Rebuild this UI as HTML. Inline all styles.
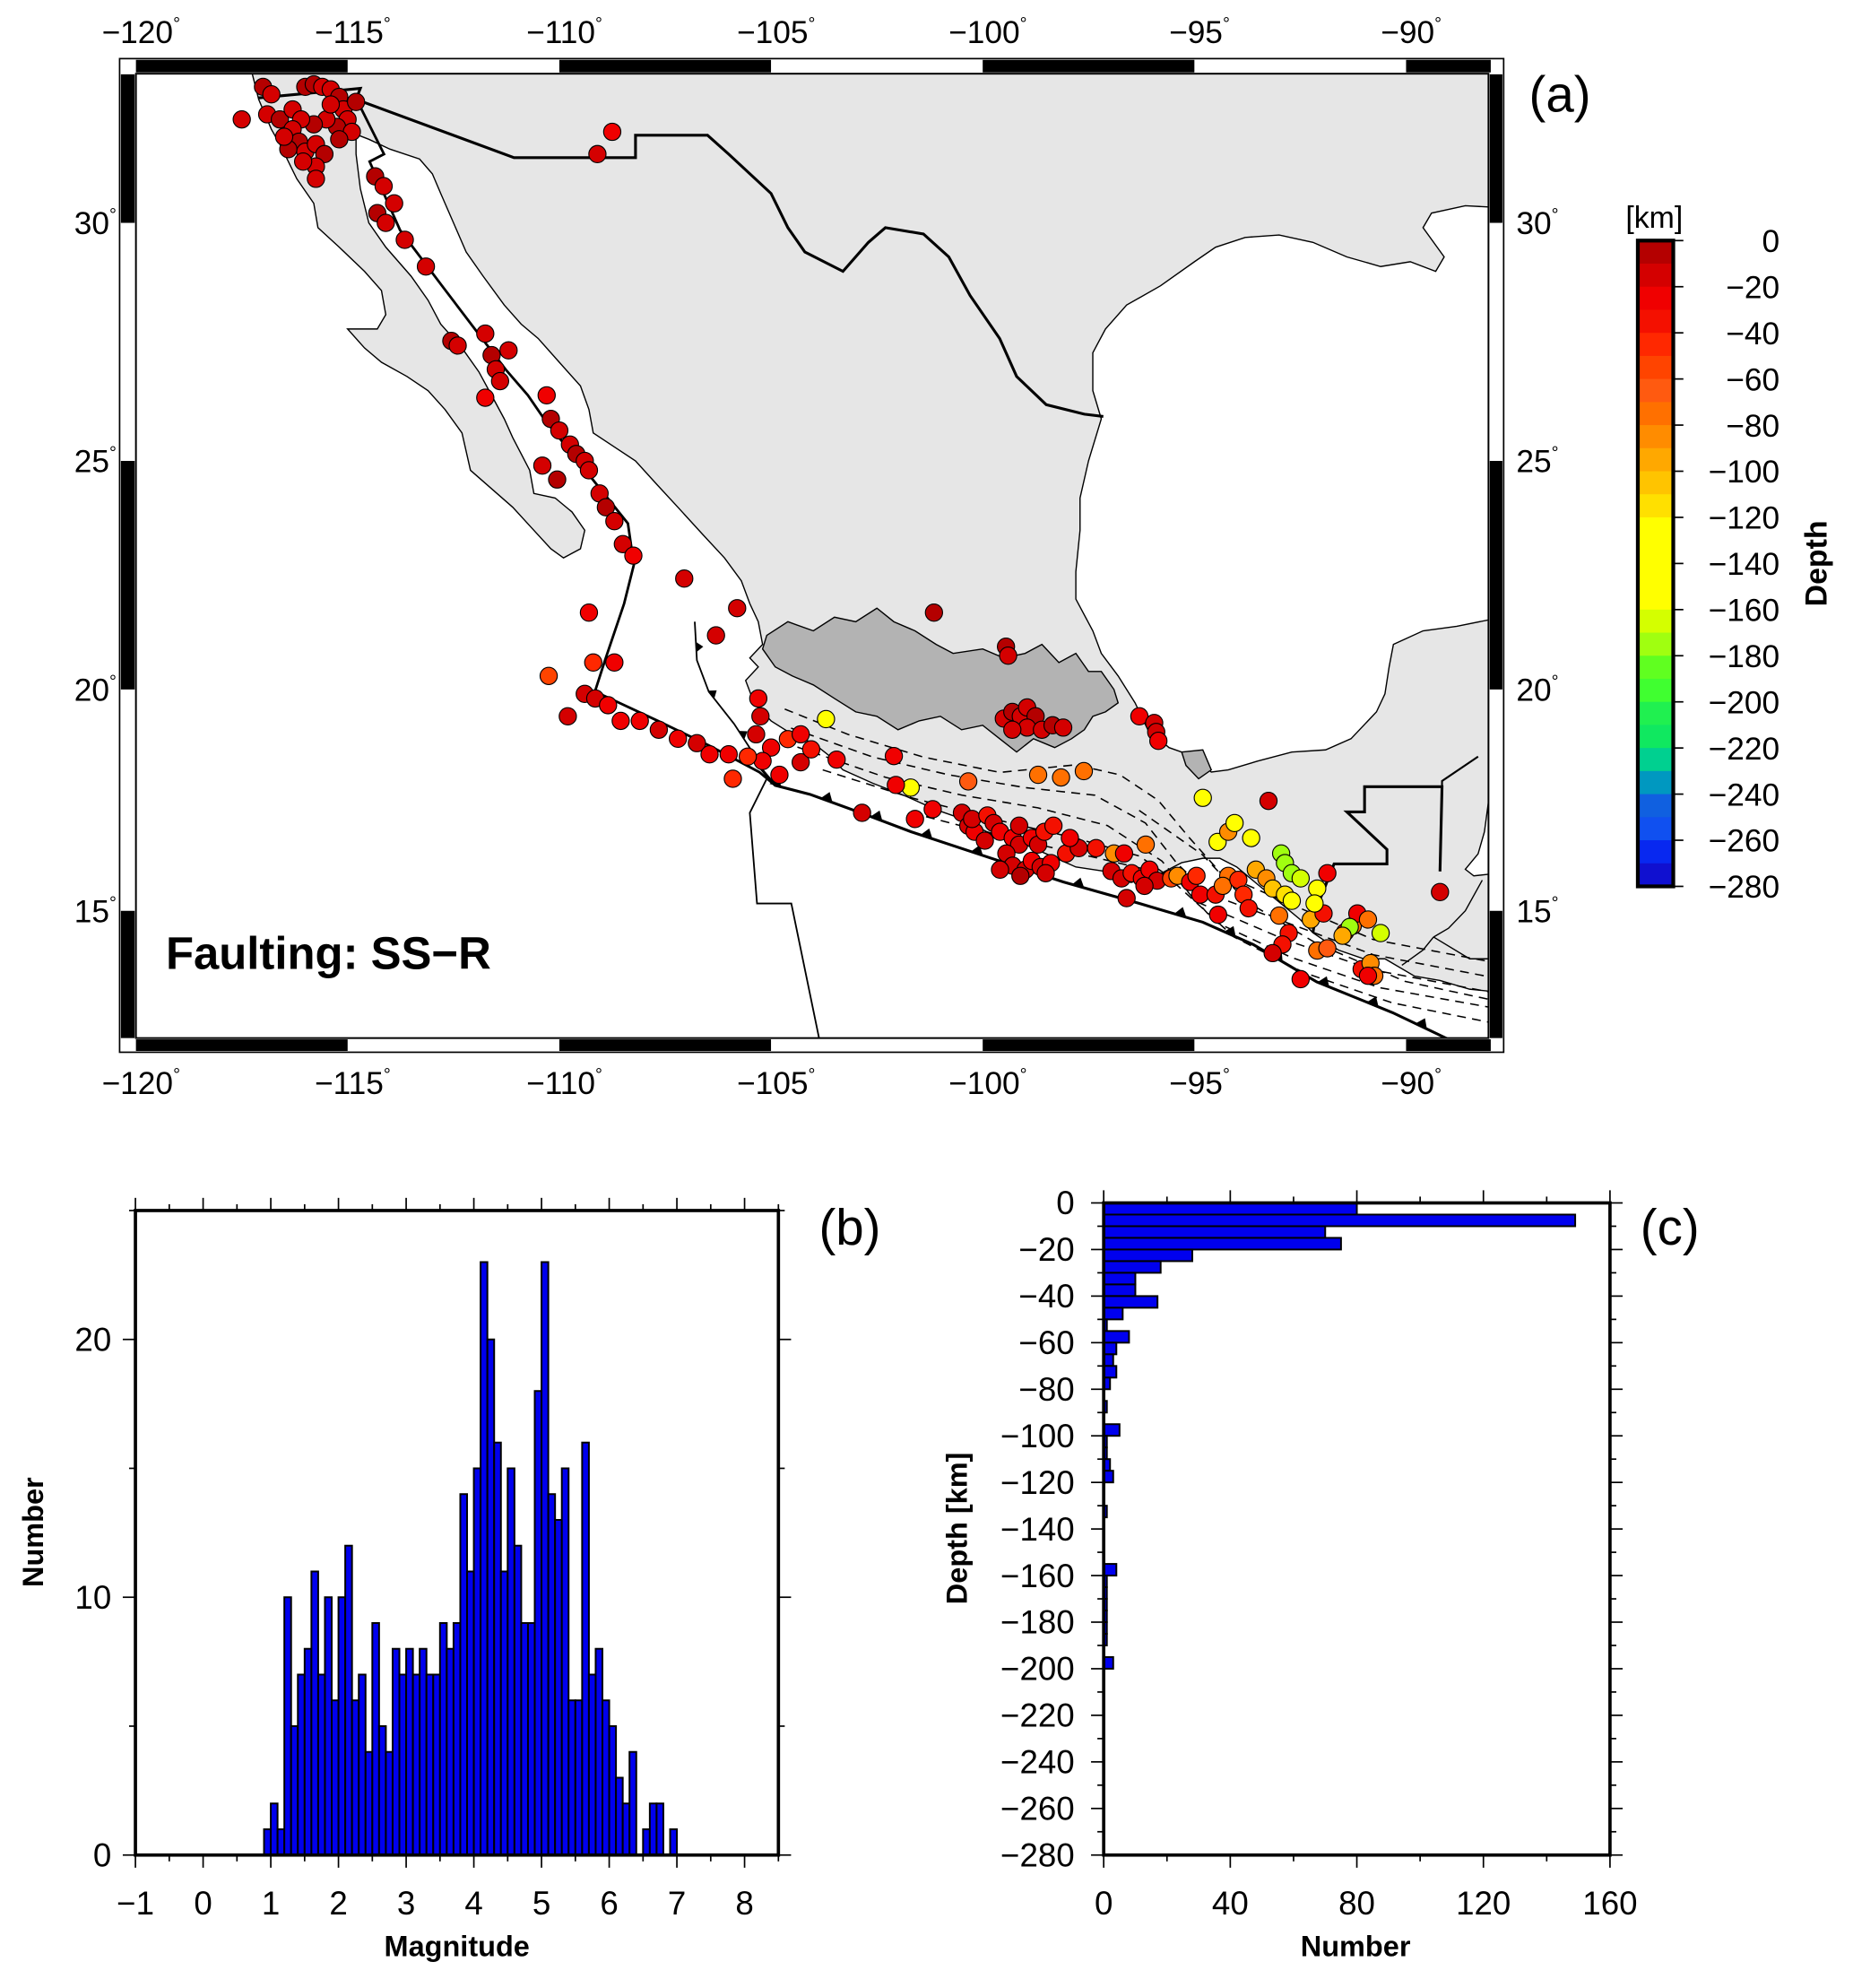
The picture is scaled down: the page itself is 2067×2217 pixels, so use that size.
<!DOCTYPE html>
<html><head><meta charset="utf-8"><style>
html,body{margin:0;padding:0;background:#fff}
svg{display:block}
text{font-family:"Liberation Sans",sans-serif;fill:#000}
</style></head><body>
<svg id="fig" xmlns="http://www.w3.org/2000/svg" width="2067" height="2217" viewBox="0 0 1464 1570" preserveAspectRatio="none">
<defs><clipPath id="mapclip"><rect x="107.4" y="58.2" width="1068.6" height="761.6"/></clipPath></defs>
<g id="mapg"></g>
<g id="cbar"></g>
<g id="hb"></g>
<g id="hc"></g>
</svg>
<script>
// ---------- data ----------
const quakeLon=[-117.0,-116.8,-116.9,-116.6,-116.3,-116.0,-115.8,-115.6,-115.4,-115.2,-115.1,-115.0,-115.25,-115.5,-115.8,-116.1,-116.3,-116.15,-116.0,-115.75,-115.55,-115.75,-116.05,-116.4,-116.5,-117.5,-115.75,-114.8,-114.9,-115.4,-115.2,
-108.75,-109.1,-114.35,-114.15,-113.9,-114.3,-114.1,-113.65,-113.15,-112.55,-112.4,-111.75,-111.6,-111.5,-111.2,-111.75,-111.4,-110.3,-110.2,-110.0,-109.75,-109.6,-109.4,-110.4,-110.05,-109.3,-109.05,-108.9,-108.7,-108.5,-108.25,-107.05,-105.8,-106.3,-109.3,-101.15,
-109.2,-108.7,-110.25,-109.4,-109.15,-108.85,-109.8,-108.55,-108.1,-107.65,-107.2,-106.75,-106.45,-106.0,-105.9,-105.3,-105.25,-105.35,-105.0,-105.2,-104.6,-104.3,-103.7,-105.55,-104.8,-104.3,-104.05,-103.45,-102.85,-102.1,-101.7,-102.05,-101.6,
-100.34,-98.69,-98.15,-97.61,
-99.45,-99.4,-99.5,-99.3,-99.1,-98.95,-98.75,-98.95,-98.6,-98.35,-98.1,-99.3,-96.3,-95.95,-95.9,-95.85,-93.25,
-101.18,-100.49,-100.34,-100.19,-100.25,-99.89,-99.74,-99.59,-99.29,-99.14,-98.84,-98.69,-98.54,-99.95,-99.44,-99.29,-98.99,-98.84,-98.63,-98.39,-99.59,-99.11,-98.51,-98.03,-97.73,-98.33,-97.94,-99.14,
-97.32,-96.9,-96.66,-96.96,-96.72,-96.48,-96.24,-96.06,-95.88,-96.6,-96.15,-96.18,-95.55,-95.4,-95.1,-94.86,-94.44,-94.5,-94.95,
-94.8,-94.45,-94.2,-94.05,-93.66,-92.95,-92.86,-92.7,-92.49,-93.55,-93.3,-93.15,-92.86,-92.7,-92.25,-91.95,-91.86,-92.1,-92.16,-94.2,-94.33,-93.96,-93.84,-93.72,-93.0,-92.77,-92.92,-93.15,-92.49,-92.1,-91.86,-91.44,-91.26,-91.15,-91.33,-90.9,-90.6,-91.5,-91.05,-90.84,-90.75,-90.9,-89.2];
const quakeLat=[32.75,32.6,32.2,32.1,32.3,32.75,32.8,32.75,32.7,32.55,32.3,32.1,31.95,32.1,32.0,32.1,31.9,31.65,31.45,31.6,31.4,31.15,31.25,31.5,31.75,32.1,30.9,32.45,31.85,32.4,31.7,
31.85,31.4,30.95,30.75,30.4,30.2,30.0,29.65,29.1,27.55,27.45,27.7,27.25,26.95,27.35,26.35,26.7,26.4,25.9,25.65,25.35,25.15,25.0,24.9,24.6,24.8,24.3,24.0,23.7,23.2,22.95,22.45,21.8,21.2,21.7,21.7,
20.6,20.6,20.3,19.9,19.8,19.65,19.4,19.3,19.3,19.1,18.9,18.8,18.55,18.55,18.0,19.8,19.4,19.0,18.7,18.4,18.89,19.0,19.34,18.5,18.09,18.37,18.66,18.43,17.23,18.51,17.8,17.86,17.09,
17.94,18.09,18.03,18.17,
20.95,20.75,19.35,19.5,19.4,19.6,19.4,19.15,19.1,19.2,19.15,19.1,19.4,19.25,19.05,18.85,17.5,
17.31,17.23,16.94,16.8,17.09,17.17,17.0,16.8,16.66,16.51,16.66,16.51,16.8,16.6,16.31,16.03,15.94,16.14,16.0,16.09,15.94,15.8,15.86,16.31,16.43,16.94,16.66,16.94,
16.43,16.31,16.31,15.91,15.74,15.86,15.74,15.94,15.69,15.29,16.51,15.57,15.74,15.8,15.66,15.37,14.91,15.37,15.8,
17.57,16.57,16.8,17.0,16.66,16.31,16.09,15.86,15.74,15.94,15.74,15.51,15.37,15.23,14.8,14.94,15.86,15.51,15.17,15.8,15.57,15.71,15.37,15.06,14.89,14.49,14.23,14.03,13.43,14.09,14.14,14.51,14.66,14.94,14.63,14.8,14.49,14.43,13.66,13.8,13.51,13.51,15.43];
const quakeDepth=[8,10,12,8,10,6,8,10,12,8,10,12,6,10,8,12,10,8,10,12,8,14,10,8,12,15,18,8,10,12,8,
20,10,8,10,12,8,10,12,14,8,10,12,8,10,12,20,10,22,8,10,12,8,10,15,8,10,12,8,10,12,20,15,18,10,22,8,
40,20,50,15,10,20,15,20,25,15,20,15,25,20,45,25,18,15,20,25,40,25,130,45,20,15,30,20,15,20,120,20,25,
60,70,75,70,
8,10,10,8,12,10,8,12,10,8,10,12,20,15,18,20,10,
20,10,10,25,15,30,10,20,25,10,20,15,30,10,15,10,10,20,10,25,10,5,10,30,15,35,20,10,
30,80,25,15,10,30,20,25,10,10,75,15,50,80,20,25,20,30,40,
130,125,80,120,130,170,175,175,165,90,80,100,110,120,90,30,20,120,120,70,75,40,40,30,70,35,30,15,20,70,65,35,70,20,170,75,165,90,30,80,70,25,10];

const magBinStart=0.9, magBinWidth=0.1;
const magCounts=[1,2,1,10,5,7,8,11,7,10, 6,10,12,6,7,4,9,5,4,8, 7,8,7,8,7,7,9,8,9,14, 11,15,23,20,16,11,15,12,9,9, 18,23,14,13,15,6,6,16,7,8, 6,5,3,2,4,0,1,2,2,0,1];
const magTicks=[-1,0,1,2,3,4,5,6,7,8];
const numTicksB=[0,10,20];

const depthBinWidth=5;
const depthCounts=[80,149,70,75,28,18,10,10,17,6,1,8,4,3,4,2,0,1,0,5,1,1,2,3,0,0,1,0,0,0,0,4,1,1,1,1,1,1,0,3];
const depthTicks=[0,-20,-40,-60,-80,-100,-120,-140,-160,-180,-200,-220,-240,-260,-280];
const numTicksC=[0,40,80,120,160];

const cptColors=["#b40000","#d40000","#f00000","#f41000","#ff2800","#ff4400","#ff5a10","#ff7000","#ff8c00","#ffa800","#ffc400","#ffe000","#ffff00","#ffff00","#ffff00","#ffff00","#d4ff00","#a0ff10","#60ff20","#40ff30","#20f050","#10e860","#00d090","#0098c0","#1060e0","#1050f0","#0828f0","#1010d0"];
const lonTicks=[-120,-115,-110,-105,-100,-95,-90];
const latTicks=[15,20,25,30];

// ---------- helpers ----------
const NS="http://www.w3.org/2000/svg";
function mk(tag,attrs,parent){const e=document.createElementNS(NS,tag);for(const k in attrs)e.setAttribute(k,attrs[k]);parent.appendChild(e);return e;}
const merc=l=>Math.log(Math.tan(Math.PI/4+l*Math.PI/360));
const PX=lon=>107.4+(lon+120)*33.45;
const PY=lat=>176-1910*(merc(lat)-merc(30));
const pathLL=pts=>pts.map((p,i)=>(i?"L":"M")+PX(p[0]).toFixed(1)+","+PY(p[1]).toFixed(1)).join("");
function depthColor(d){let i=Math.floor(d/10);if(i<0)i=0;if(i>27)i=27;return cptColors[i];}

// ---------- map ----------
const M=document.getElementById("mapg");
const land=[[-117.6,33.6],[-117.25,33.0],[-117.1,32.5],[-116.8,31.9],[-116.6,31.6],[-116.2,30.9],[-115.8,30.4],[-115.7,29.9],[-115.2,29.5],[-114.6,29.0],[-114.2,28.6],[-114.1,28.1],[-114.3,27.8],[-115.0,27.8],[-114.6,27.4],[-114.2,27.1],[-113.6,26.8],[-113.1,26.5],[-112.7,26.1],[-112.3,25.6],[-112.1,24.8],[-111.6,24.4],[-111.1,24.0],[-110.7,23.6],[-110.2,23.1],[-109.9,22.9],[-109.5,23.1],[-109.4,23.5],[-109.7,23.9],[-110.1,24.2],[-110.6,24.3],[-110.7,24.8],[-111.1,25.5],[-111.3,25.9],[-111.6,26.4],[-111.9,26.9],[-112.3,27.4],[-112.8,27.9],[-113.1,28.4],[-113.5,28.9],[-114.1,29.5],[-114.5,30.0],[-114.7,30.7],[-114.8,31.4],[-114.8,31.8],[-114.5,31.7],[-114.0,31.5],[-113.3,31.3],[-113.0,31.0],[-112.8,30.6],[-112.5,30.0],[-112.2,29.4],[-111.8,28.9],[-111.3,28.3],[-110.9,27.9],[-110.5,27.6],[-110.0,27.1],[-109.5,26.6],[-109.3,26.1],[-109.2,25.6],[-108.7,25.3],[-108.2,25.0],[-107.7,24.5],[-107.2,24.0],[-106.6,23.4],[-106.1,22.9],[-105.7,22.4],[-105.5,21.9],[-105.3,21.5],[-105.2,21.0],[-105.5,20.7],[-105.3,20.5],[-105.6,20.2],[-105.4,19.7],[-105.0,19.3],[-104.5,19.0],[-104.0,18.8],[-103.6,18.5],[-103.3,18.2],[-102.6,17.9],[-101.8,17.6],[-101.1,17.3],[-100.5,17.1],[-99.9,16.8],[-99.2,16.6],[-98.5,16.3],[-97.8,16.0],[-97.1,15.9],[-96.5,15.65],[-95.9,15.8],[-95.3,16.1],[-94.8,16.2],[-94.4,16.2],[-94.0,16.0],[-93.5,15.6],[-93.0,15.2],[-92.5,14.8],[-92.2,14.5],[-91.6,14.1],[-91.0,13.9],[-90.5,13.9],[-89.8,13.5],[-89.2,13.4],[-88.5,13.2],[-87.5,13.1],[-87.5,15.8],[-87.9,15.85],[-88.4,15.8],[-88.6,15.95],[-88.3,16.3],[-88.15,16.8],[-88.05,17.5],[-87.9,18.2],[-87.5,18.4],[-87.5,21.5],[-88.0,21.55],[-88.8,21.4],[-89.6,21.3],[-90.3,21.0],[-90.4,20.5],[-90.5,19.9],[-90.7,19.5],[-91.3,18.9],[-91.9,18.65],[-92.7,18.6],[-93.5,18.4],[-94.2,18.2],[-94.6,18.15],[-95.0,18.5],[-95.6,18.7],[-96.1,19.1],[-96.4,19.7],[-96.8,20.3],[-97.2,20.8],[-97.4,21.3],[-97.8,22.0],[-97.8,22.6],[-97.7,23.5],[-97.7,24.2],[-97.5,25.0],[-97.2,25.9],[-97.4,26.5],[-97.4,27.3],[-97.1,27.8],[-96.6,28.3],[-95.8,28.7],[-95.0,29.2],[-94.5,29.5],[-93.8,29.7],[-93.0,29.75],[-92.2,29.6],[-91.4,29.3],[-90.6,29.1],[-89.9,29.2],[-89.3,29.0],[-89.1,29.3],[-89.6,29.9],[-89.4,30.2],[-88.6,30.35],[-87.5,30.3],[-87.5,34],[-117.9,34]];
const highland=[[-105.1,21.2],[-104.6,21.5],[-104.0,21.3],[-103.5,21.6],[-103.0,21.5],[-102.5,21.8],[-102.1,21.5],[-101.6,21.3],[-101.1,21.0],[-100.7,20.8],[-100.0,20.9],[-99.5,20.7],[-99.0,20.8],[-98.6,21.0],[-98.2,20.6],[-97.8,20.8],[-97.5,20.4],[-97.2,20.4],[-96.9,20.0],[-96.8,19.7],[-97.1,19.5],[-97.4,19.4],[-97.6,19.1],[-97.9,18.9],[-98.3,18.7],[-98.8,18.9],[-99.2,18.6],[-99.6,18.9],[-100.0,19.2],[-100.5,19.1],[-101.0,19.4],[-101.5,19.3],[-102.0,19.1],[-102.5,19.4],[-103.0,19.5],[-103.5,19.8],[-104.0,20.1],[-104.5,20.3],[-104.9,20.5],[-105.2,20.9]];
const highland2=[[-95.3,18.6],[-94.8,18.65],[-94.6,18.2],[-94.9,18.0],[-95.2,18.3]];
const usBorder=[[-117.1,32.53],[-114.7,32.72],[-114.8,32.5],[-111.07,31.33],[-108.2,31.33],[-108.2,31.78],[-106.5,31.78],[-106.0,31.4],[-105.0,30.6],[-104.6,29.9],[-104.2,29.4],[-103.3,29.0],[-102.7,29.6],[-102.3,29.9],[-101.4,29.77],[-100.8,29.3],[-100.3,28.5],[-99.6,27.6],[-99.2,26.8],[-98.5,26.2],[-97.6,26.0],[-97.15,25.95]];
const gtBorder=[[-92.2,14.5],[-92.1,15.1],[-91.7,16.07],[-90.45,16.07],[-90.45,16.4],[-91.4,17.25],[-90.98,17.25],[-90.98,17.82],[-89.15,17.82],[-89.2,15.9]];
const bzBorder=[[-89.15,17.82],[-89.15,17.95],[-88.3,18.5]];
const caBorders=[[[-89.35,14.4],[-89.0,14.6],[-88.6,15.0],[-88.2,15.7]],[[-89.35,14.4],[-89.6,14.1],[-90.1,13.75]],[[-89.35,14.4],[-88.5,13.9],[-87.8,13.9]]];
const plateMain=[[-114.85,32.6],[-114.14,31.4],[-114.48,31.25],[-113.76,29.85],[-112.77,28.7],[-111.27,26.95],[-110.74,26.4],[-110.36,25.9],[-108.38,23.65],[-108.24,22.75],[-108.47,21.9],[-108.92,20.65],[-109.16,19.95],[-108.92,19.85],[-107.67,19.3],[-106.47,18.75],[-105.28,18.15],[-104.9,17.85]];
const trench=[[-105.3,18.3],[-104.9,17.85],[-104.08,17.65],[-102.88,17.23],[-101.69,16.8],[-99.89,16.23],[-98.1,15.66],[-96.3,15.17],[-94.8,14.74],[-93.61,14.23],[-92.11,13.37],[-90.32,12.66],[-89.12,12.1],[-88.5,11.8]];
const rivera=[[-106.8,21.5],[-106.75,20.65],[-106.47,19.95],[-105.87,19.23],[-105.3,18.4]];
const fracture=[[-105.1,18.0],[-105.5,17.23],[-105.33,15.17],[-104.52,15.17],[-103.83,11.9]];
const slabContours=[
[[620,560],[670,580],[730,598],[790,610],[850,604],[885,612],[915,632],[940,662],[965,690],[1015,712],[1085,742],[1180,760]],
[[625,575],[690,598],[750,612],[810,622],[865,628],[905,650],[930,682],[955,706],[1015,728],[1085,754],[1180,772]],
[[630,590],[700,614],[760,628],[820,638],[875,652],[918,680],[945,712],[1015,742],[1085,766],[1180,784]],
[[650,608],[720,630],[790,648],[850,662],[900,676],[935,700],[960,728],[1020,756],[1090,780],[1180,796]],
[[720,642],[790,660],[860,676],[920,690],[975,740],[1030,768],[1100,792],[1180,808]],
[[900,640],[950,675],[985,712],[1040,745],[1110,775],[1180,790]]];

const clipG=mk("g",{"clip-path":"url(#mapclip)"},M);


let e;
e=mk("rect",{x:107.4,y:58.2,width:1068.6,height:761.6,fill:"#fff"},clipG);


e=mk("path",{d:pathLL(land)+"Z",fill:"#e6e6e6",stroke:"#000","stroke-width":1},clipG);


e=mk("path",{d:pathLL(highland)+"Z"+pathLL(highland2)+"Z",fill:"#b3b3b3",stroke:"#000","stroke-width":1},clipG);


slabContours.forEach(c=>{
  const p=mk("path",{d:c.map((q,i)=>(i?"L":"M")+q[0]+","+q[1]).join(""),fill:"none",stroke:"#000","stroke-width":1.1,"stroke-dasharray":"7,5"},clipG);
  
  
});
[[usBorder,2.2,'us-mexico-border'],[gtBorder,2.2,'guatemala-border'],[bzBorder,1.5,'belize-border']].forEach(b=>{
  const p=mk("path",{d:pathLL(b[0]),fill:"none",stroke:"#000","stroke-width":b[1]},clipG);
  
  
});
caBorders.forEach(b=>{
  const p=mk("path",{d:pathLL(b),fill:"none",stroke:"#000","stroke-width":1},clipG);
  
  
});
e=mk("path",{d:pathLL(plateMain),fill:"none",stroke:"#000","stroke-width":2},clipG);


e=mk("path",{d:pathLL(trench),fill:"none",stroke:"#000","stroke-width":2.2},clipG);


e=mk("path",{d:pathLL(rivera),fill:"none",stroke:"#000","stroke-width":1.3},clipG);


e=mk("path",{d:pathLL(fracture),fill:"none",stroke:"#000","stroke-width":1.3},clipG);


function teeth(line,step,size,name){
  const pts=line.map(p=>[PX(p[0]),PY(p[1])]);
  let acc=step/2;
  for(let i=0;i<pts.length-1;i++){
    const [x0,y0]=pts[i],[x1,y1]=pts[i+1];const L=Math.hypot(x1-x0,y1-y0);
    while(acc<L){
      const t=acc/L,x=x0+(x1-x0)*t,y=y0+(y1-y0)*t,ux=(x1-x0)/L,uy=(y1-y0)/L,nx=uy,ny=-ux;
      const tri=mk("path",{d:`M${x-ux*size},${y-uy*size}L${x+ux*size},${y+uy*size}L${x+nx*size*1.4},${y+ny*size*1.4}Z`,fill:"#000"},clipG);
      
      
      acc+=step;
    }
    acc-=L;
  }
}
teeth(trench,42,5,'subduction-tooth');
teeth(rivera,40,4,'subduction-tooth');
for(let i=0;i<quakeLon.length;i++){
  const c=mk("circle",{cx:PX(quakeLon[i]).toFixed(1),cy:PY(quakeLat[i]).toFixed(1),r:6.8,fill:depthColor(quakeDepth[i]),stroke:"#000","stroke-width":0.8},clipG);
  
  
}
const fx0=94.5,fx1=1188,fy0=46.3,fy1=831,ix0=107.4,ix1=1176,iy0=58.2,iy1=819.8;
e=mk("rect",{x:fx0,y:fy0,width:fx1-fx0,height:fy1-fy0,fill:"none",stroke:"#000","stroke-width":1.2},M);


const lonEdges=[-120,-115,-110,-105,-100,-95,-90,-88];
for(let i=0;i<lonEdges.length-1;i++){
  if(i%2)continue;
  const xa=PX(lonEdges[i]),xb=PX(lonEdges[i+1]);
  [[fy0+1,iy0-1],[iy1+1,fy1-1]].forEach(r=>{
    const b=mk("rect",{x:xa,y:r[0],width:xb-xa,height:r[1]-r[0],fill:"#000"},M);
    
    
  });
}
const latEdges=[33,30,25,20,15,12];
for(let i=0;i<latEdges.length-1;i++){
  if(i%2)continue;
  const ya=Math.max(iy0,PY(latEdges[i])),yb=Math.min(iy1,PY(latEdges[i+1]));
  [[fx0+1,ix0-1],[ix1+1,fx1-1]].forEach(r=>{
    const b=mk("rect",{x:r[0],y:ya,width:r[1]-r[0],height:yb-ya,fill:"#000"},M);
    
    
  });
}
e=mk("rect",{x:ix0,y:iy0,width:ix1-ix0,height:iy1-iy0,fill:"none",stroke:"#000","stroke-width":1.4},M);


function degLabel(str,x,y,anchor,name){
  const t=mk("text",{x:x,y:y,"font-size":25,"text-anchor":anchor},M);
  t.textContent=str;
  const s=mk("tspan",{"font-size":14,dy:-11},t);s.textContent="°";
  
  
}
lonTicks.forEach(l=>{
  const s="\u2212"+Math.abs(l);
  degLabel(s,PX(l)+4,34,"middle",'top-longitude-label');
  degLabel(s,PX(l)+4,864,"middle",'bottom-longitude-label');
});
latTicks.forEach(l=>{
  degLabel(String(l),92,PY(l)+9,"end",'left-latitude-label');
  degLabel(String(l),1198,PY(l)+9,"start",'right-latitude-label');
});
e=mk("text",{x:1208,y:88,"font-size":40},M);e.textContent="(a)";


e=mk("text",{x:131,y:765,"font-size":36,"font-weight":"bold"},M);e.textContent="Faulting: SS\u2212R";



// ---------- colorbar ----------
const CB=document.getElementById("cbar");
const cbx=1294,cbw=28,cby0=190,cby1=700;
const cby=d=>cby0+(d/280)*(cby1-cby0);
for(let i=0;i<cptColors.length;i++){
  const r=mk("rect",{x:cbx,y:cby(i*10),width:cbw,height:cby((i+1)*10)-cby(i*10)+0.5,fill:cptColors[i]},CB);
  
  
}
e=mk("rect",{x:cbx,y:cby0,width:cbw,height:cby1-cby0,fill:"none",stroke:"#000","stroke-width":3},CB);


depthTicks.forEach(d=>{
  const y=cby(-d);
  const l=mk("line",{x1:cbx+cbw,x2:cbx+cbw+8,y1:y,y2:y,stroke:"#000","stroke-width":1.2},CB);
  
  
  const t=mk("text",{x:1406,y:y+9,"font-size":25,"text-anchor":"end"},CB);
  t.textContent=d===0?"0":"\u2212"+Math.abs(d);
  
  
});
e=mk("text",{x:1307,y:180,"font-size":24,"text-anchor":"middle"},CB);e.textContent="[km]";


e=mk("text",{x:0,y:0,"font-size":24,"font-weight":"bold","text-anchor":"middle",transform:"translate(1443,445) rotate(-90)"},CB);e.textContent="Depth";



// ---------- histogram b ----------
const B=document.getElementById("hb");
const bx0=107,bx1=615,by0=956,by1=1465,bxMin=-1,bxMax=8.5,byMax=25;
const bX=m=>bx0+(m-bxMin)/(bxMax-bxMin)*(bx1-bx0);
const bY=n=>by1-n/byMax*(by1-by0);
magCounts.forEach((n,i)=>{
  if(n<=0)return;
  const m=magBinStart+i*magBinWidth;
  const r=mk("rect",{x:bX(m),y:bY(n),width:bX(m+magBinWidth)-bX(m),height:bY(0)-bY(n),fill:"#0000ee",stroke:"#000","stroke-width":1.4},B);
  
  
});
e=mk("rect",{x:bx0,y:by0,width:bx1-bx0,height:by1-by0,fill:"none",stroke:"#000","stroke-width":2.6},B);


for(let m=-1;m<=8.5;m+=0.5){
  const maj=Number.isInteger(m),L=maj?10:5;
  [[by1,by1+L],[by0,by0-L]].forEach(p=>{
    const l=mk("line",{x1:bX(m),x2:bX(m),y1:p[0],y2:p[1],stroke:"#000","stroke-width":1.2},B);
    
    
  });
}
magTicks.forEach(m=>{
  const t=mk("text",{x:bX(m),y:1512,"font-size":26,"text-anchor":"middle"},B);
  t.textContent=m<0?"\u2212"+Math.abs(m):String(m);
  
  
});
for(let n=0;n<=25;n+=5){
  const maj=n%10===0,L=maj?10:5;
  [[bx0,bx0-L],[bx1,bx1+L]].forEach(p=>{
    const l=mk("line",{x1:p[0],x2:p[1],y1:bY(n),y2:bY(n),stroke:"#000","stroke-width":1.2},B);
    
    
  });
}
numTicksB.forEach(n=>{
  const t=mk("text",{x:88,y:bY(n)+9,"font-size":26,"text-anchor":"end"},B);
  t.textContent=String(n);
  
  
});
e=mk("text",{x:361,y:1545,"font-size":23,"font-weight":"bold","text-anchor":"middle"},B);e.textContent="Magnitude";


e=mk("text",{x:0,y:0,"font-size":23,"font-weight":"bold","text-anchor":"middle",transform:"translate(34,1210) rotate(-90)"},B);e.textContent="Number";


e=mk("text",{x:647,y:983,"font-size":40},B);e.textContent="(b)";



// ---------- histogram c ----------
const C=document.getElementById("hc");
const cx0=872,cx1=1272,cy0=950,cy1=1465,cxMax=160,cdMax=280;
const cX=n=>cx0+n/cxMax*(cx1-cx0);
const cY=d=>cy0+d/cdMax*(cy1-cy0);
depthCounts.forEach((n,i)=>{
  if(n<=0)return;
  const d0=i*depthBinWidth;
  const r=mk("rect",{x:cX(0),y:cY(d0),width:cX(n)-cX(0),height:cY(d0+depthBinWidth)-cY(d0),fill:"#0000ee",stroke:"#000","stroke-width":1.4},C);
  
  
});
e=mk("rect",{x:cx0,y:cy0,width:cx1-cx0,height:cy1-cy0,fill:"none",stroke:"#000","stroke-width":2.6},C);


for(let d=0;d<=280;d+=10){
  const maj=d%20===0,L=maj?10:5;
  [[cx0,cx0-L],[cx1,cx1+L]].forEach(p=>{
    const l=mk("line",{x1:p[0],x2:p[1],y1:cY(d),y2:cY(d),stroke:"#000","stroke-width":1.2},C);
    
    
  });
}
depthTicks.forEach(d=>{
  const t=mk("text",{x:849,y:cY(-d)+9,"font-size":26,"text-anchor":"end"},C);
  t.textContent=d===0?"0":"\u2212"+Math.abs(d);
  
  
});
for(let n=0;n<=160;n+=20){
  const maj=n%40===0,L=maj?10:5;
  [[cy1,cy1+L],[cy0,cy0-L]].forEach(p=>{
    const l=mk("line",{x1:cX(n),x2:cX(n),y1:p[0],y2:p[1],stroke:"#000","stroke-width":1.2},C);
    
    
  });
}
numTicksC.forEach(n=>{
  const t=mk("text",{x:cX(n),y:1512,"font-size":26,"text-anchor":"middle"},C);
  t.textContent=String(n);
  
  
});
e=mk("text",{x:1071,y:1545,"font-size":23,"font-weight":"bold","text-anchor":"middle"},C);e.textContent="Number";


e=mk("text",{x:0,y:0,"font-size":23,"font-weight":"bold","text-anchor":"middle",transform:"translate(764,1207) rotate(-90)"},C);e.textContent="Depth [km]";


e=mk("text",{x:1296,y:983,"font-size":40},C);e.textContent="(c)";


</script>
</body></html>
